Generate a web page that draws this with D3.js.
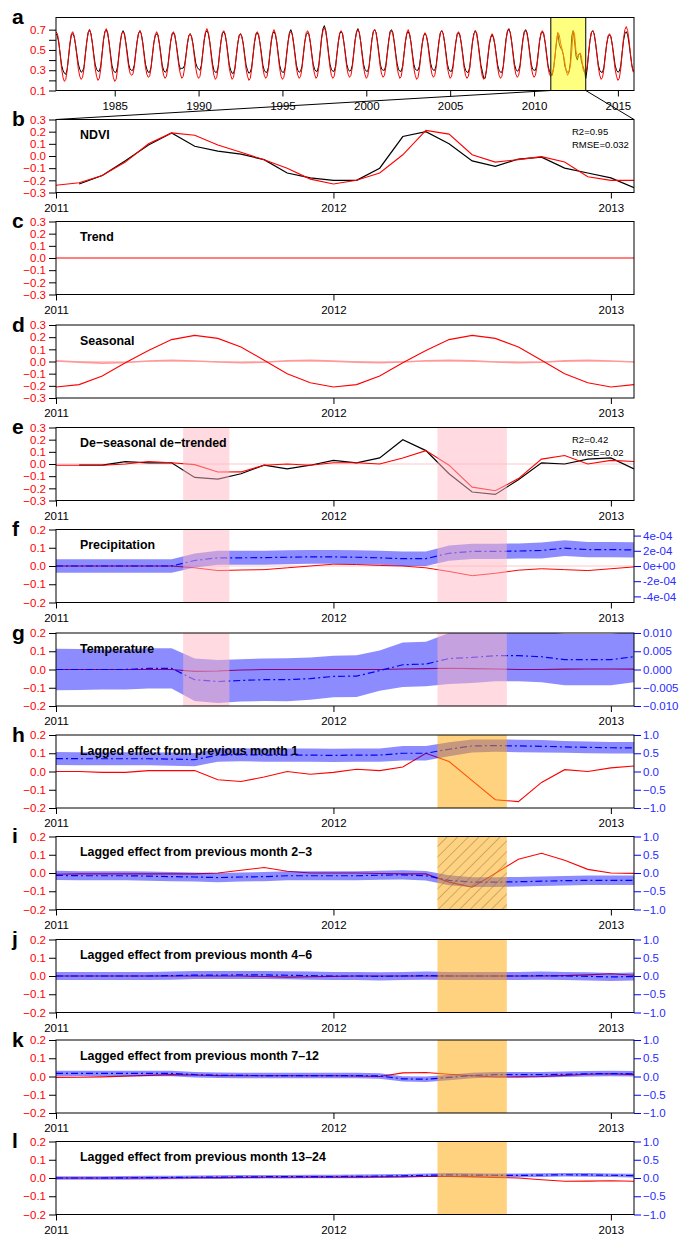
<!DOCTYPE html>
<html>
<head>
<meta charset="utf-8">
<script src="https://cdn.jsdelivr.net/npm/d3@7"></script>
<style>
  body { margin: 0; background: #fff; }
  svg { display: block; font-family: "Liberation Sans", Arial, Helvetica, sans-serif; }
</style>
</head>
<body>
<svg id="chart" width="680" height="1237"></svg>
<script>
// ---------- panel a: monthly NDVI, Jul 1981 - Dec 2015 (one row per year) ----------
const ndviObsRows = [
  [0.66,0.64,0.57,0.46,0.35,0.30],
  [0.27,0.26,0.31,0.43,0.56,0.65,0.66,0.63,0.55,0.45,0.36,0.31],
  [0.28,0.29,0.33,0.46,0.58,0.67,0.70,0.66,0.57,0.46,0.36,0.31],
  [0.29,0.29,0.34,0.47,0.60,0.68,0.70,0.66,0.57,0.46,0.35,0.30],
  [0.28,0.28,0.33,0.45,0.58,0.66,0.69,0.66,0.57,0.47,0.36,0.31],
  [0.30,0.30,0.35,0.47,0.58,0.66,0.69,0.66,0.58,0.47,0.36,0.31],
  [0.28,0.28,0.33,0.45,0.57,0.64,0.66,0.64,0.56,0.46,0.35,0.30],
  [0.28,0.29,0.34,0.46,0.58,0.65,0.67,0.64,0.56,0.46,0.36,0.31],
  [0.32,0.32,0.35,0.45,0.56,0.64,0.66,0.63,0.56,0.46,0.37,0.33],
  [0.31,0.30,0.35,0.47,0.59,0.67,0.69,0.66,0.58,0.47,0.36,0.30],
  [0.28,0.28,0.33,0.46,0.58,0.66,0.68,0.65,0.57,0.46,0.35,0.30],
  [0.27,0.27,0.32,0.44,0.56,0.64,0.66,0.63,0.56,0.45,0.35,0.30],
  [0.27,0.28,0.33,0.45,0.57,0.65,0.67,0.64,0.56,0.46,0.35,0.30],
  [0.28,0.28,0.33,0.46,0.58,0.66,0.68,0.65,0.57,0.46,0.35,0.30],
  [0.28,0.28,0.33,0.46,0.58,0.67,0.70,0.66,0.57,0.46,0.35,0.30],
  [0.28,0.29,0.34,0.46,0.58,0.65,0.67,0.65,0.57,0.46,0.36,0.31],
  [0.29,0.29,0.35,0.48,0.62,0.71,0.74,0.69,0.59,0.47,0.36,0.31],
  [0.29,0.29,0.34,0.46,0.58,0.66,0.68,0.66,0.57,0.47,0.36,0.31],
  [0.29,0.30,0.35,0.47,0.60,0.68,0.71,0.67,0.58,0.47,0.36,0.31],
  [0.29,0.29,0.34,0.47,0.60,0.68,0.70,0.67,0.58,0.47,0.36,0.31],
  [0.30,0.30,0.35,0.47,0.59,0.68,0.70,0.67,0.58,0.47,0.37,0.31],
  [0.29,0.29,0.34,0.46,0.58,0.66,0.68,0.65,0.57,0.46,0.36,0.31],
  [0.30,0.30,0.34,0.45,0.56,0.64,0.66,0.64,0.57,0.47,0.37,0.32],
  [0.30,0.30,0.35,0.47,0.59,0.67,0.69,0.66,0.58,0.47,0.36,0.31],
  [0.29,0.29,0.34,0.46,0.57,0.65,0.67,0.64,0.56,0.46,0.35,0.30],
  [0.28,0.28,0.33,0.46,0.58,0.66,0.69,0.66,0.57,0.46,0.35,0.29],
  [0.22,0.22,0.30,0.43,0.55,0.62,0.65,0.62,0.55,0.45,0.35,0.30],
  [0.28,0.28,0.34,0.48,0.61,0.69,0.71,0.67,0.58,0.47,0.36,0.31],
  [0.29,0.30,0.35,0.48,0.60,0.68,0.70,0.67,0.58,0.47,0.36,0.31],
  [0.30,0.30,0.35,0.47,0.59,0.66,0.68,0.65,0.57,0.46,0.35,0.29],
  [0.27,0.25,0.32,0.44,0.57,0.67,0.56,0.52,0.50,0.45,0.34,0.30],
  [0.28,0.28,0.38,0.64,0.69,0.58,0.44,0.40,0.46,0.47,0.38,0.34],
  [0.30,0.22,0.31,0.46,0.59,0.67,0.69,0.66,0.57,0.46,0.35,0.30],
  [0.28,0.28,0.33,0.45,0.56,0.63,0.65,0.63,0.55,0.45,0.35,0.30],
  [0.28,0.29,0.34,0.47,0.59,0.66,0.68,0.65,0.56,0.45,0.35,0.29]
];
const ndviFitRows = [
  [0.68,0.66,0.58,0.45,0.32,0.23],
  [0.19,0.21,0.30,0.44,0.57,0.66,0.68,0.64,0.55,0.43,0.31,0.24],
  [0.21,0.23,0.31,0.45,0.58,0.67,0.70,0.66,0.57,0.44,0.32,0.24],
  [0.20,0.22,0.31,0.46,0.60,0.68,0.71,0.67,0.57,0.44,0.31,0.23],
  [0.19,0.21,0.30,0.44,0.57,0.66,0.68,0.65,0.56,0.44,0.33,0.27],
  [0.25,0.26,0.33,0.46,0.58,0.66,0.69,0.66,0.57,0.45,0.33,0.26],
  [0.23,0.24,0.32,0.45,0.57,0.65,0.68,0.65,0.56,0.44,0.32,0.25],
  [0.22,0.24,0.32,0.45,0.58,0.66,0.68,0.65,0.56,0.44,0.33,0.26],
  [0.22,0.24,0.32,0.44,0.56,0.64,0.66,0.63,0.55,0.43,0.32,0.25],
  [0.22,0.24,0.33,0.47,0.60,0.68,0.71,0.67,0.58,0.45,0.33,0.25],
  [0.21,0.23,0.32,0.46,0.58,0.67,0.69,0.66,0.57,0.44,0.32,0.25],
  [0.21,0.23,0.31,0.44,0.56,0.64,0.66,0.63,0.55,0.43,0.31,0.24],
  [0.20,0.22,0.31,0.45,0.58,0.66,0.68,0.65,0.56,0.44,0.32,0.25],
  [0.22,0.24,0.32,0.46,0.59,0.67,0.70,0.66,0.57,0.44,0.32,0.24],
  [0.21,0.23,0.31,0.45,0.57,0.66,0.68,0.65,0.56,0.44,0.32,0.25],
  [0.22,0.24,0.32,0.45,0.58,0.67,0.69,0.66,0.57,0.45,0.33,0.26],
  [0.22,0.24,0.33,0.47,0.61,0.69,0.72,0.68,0.58,0.45,0.33,0.25],
  [0.22,0.24,0.32,0.46,0.58,0.67,0.69,0.66,0.57,0.45,0.33,0.26],
  [0.23,0.25,0.33,0.46,0.59,0.67,0.70,0.67,0.58,0.45,0.33,0.26],
  [0.22,0.24,0.33,0.47,0.60,0.68,0.70,0.67,0.57,0.45,0.33,0.26],
  [0.23,0.25,0.33,0.46,0.58,0.67,0.69,0.66,0.57,0.45,0.33,0.26],
  [0.22,0.24,0.33,0.46,0.59,0.67,0.70,0.66,0.57,0.44,0.32,0.25],
  [0.21,0.23,0.31,0.44,0.56,0.64,0.67,0.64,0.56,0.44,0.33,0.26],
  [0.23,0.25,0.33,0.46,0.58,0.67,0.69,0.66,0.57,0.45,0.33,0.26],
  [0.22,0.24,0.32,0.45,0.57,0.66,0.68,0.65,0.56,0.44,0.32,0.25],
  [0.22,0.24,0.32,0.45,0.58,0.66,0.69,0.66,0.56,0.44,0.32,0.24],
  [0.21,0.23,0.31,0.44,0.56,0.63,0.66,0.63,0.55,0.43,0.32,0.25],
  [0.22,0.24,0.33,0.47,0.60,0.68,0.70,0.67,0.58,0.45,0.33,0.26],
  [0.23,0.25,0.33,0.47,0.59,0.67,0.69,0.66,0.57,0.45,0.33,0.26],
  [0.23,0.25,0.33,0.46,0.59,0.67,0.69,0.66,0.57,0.44,0.33,0.26],
  [0.24,0.26,0.32,0.43,0.58,0.67,0.65,0.57,0.51,0.45,0.38,0.29],
  [0.25,0.28,0.34,0.49,0.69,0.66,0.49,0.43,0.45,0.47,0.43,0.31],
  [0.28,0.28,0.33,0.46,0.59,0.67,0.69,0.66,0.57,0.45,0.33,0.25],
  [0.21,0.23,0.31,0.44,0.56,0.64,0.66,0.63,0.55,0.43,0.31,0.24],
  [0.20,0.22,0.31,0.46,0.61,0.70,0.73,0.69,0.59,0.46,0.34,0.28]
];
const ndviObs = ndviObsRows.flat();
const ndviFit = ndviFitRows.flat();
const fullStart = 1981.5;
const fullEnd = 2015.96;
const aYearTicks = [1985, 1990, 1995, 2000, 2005, 2010, 2015];
const aValueTicks = [0.1, 0.2, 0.3, 0.4, 0.5, 0.6, 0.7];
const zoomWindow = [2011, 2013 + 1 / 12];

// ---------- panels b-l: monthly, Jan 2011 - Feb 2013 ----------
const zoomYears = [2011, 2012, 2013];
const ndviAnomObs = [null,-0.23,-0.16,-0.04,0.09,0.19,0.08,0.04,0.015,-0.03,-0.14,-0.18,-0.20,-0.20,-0.10,0.16,0.20,0.10,-0.04,-0.085,-0.025,-0.01,-0.10,-0.14,-0.18,-0.26];
const ndviAnomFit = [-0.24,-0.22,-0.16,-0.05,0.10,0.19,0.17,0.09,0.03,-0.03,-0.10,-0.19,-0.23,-0.20,-0.14,0.01,0.21,0.18,0.01,-0.05,-0.03,-0.005,-0.05,-0.17,-0.20,-0.20];
const trend = [0,0,0,0,0,0,0,0,0,0,0,0,0,0,0,0,0,0,0,0,0,0,0,0,0,0];
const seasonal = [-0.21,-0.19,-0.12,-0.01,0.09,0.18,0.215,0.19,0.12,0.01,-0.10,-0.175,-0.21,-0.19,-0.12,-0.01,0.09,0.18,0.215,0.19,0.12,0.01,-0.10,-0.175,-0.21,-0.19];
const seasonalMinor = [0.005,-0.005,-0.013,-0.008,0.004,0.01,0.004,-0.004,-0.01,-0.006,0.006,0.01,0.003,-0.005,-0.01,-0.004,0.006,0.01,0.005,-0.004,-0.01,-0.006,0.005,0.01,0.004,-0.004];
const residObs = [null,-0.01,-0.01,0.02,0.01,0.01,-0.11,-0.125,-0.08,-0.01,-0.04,-0.01,0.03,0.01,0.05,0.20,0.11,-0.08,-0.23,-0.25,-0.13,0.01,0.00,0.04,0.05,-0.04];
const residFit = [-0.01,-0.01,-0.01,0.0,0.02,0.01,-0.005,-0.066,-0.065,-0.01,0.0,-0.01,0.01,0.01,0.0,0.05,0.11,-0.01,-0.19,-0.22,-0.12,0.04,0.07,0.00,0.03,0.02];

const precipContrib = [0,0,0,0,0,0,-0.01,-0.025,-0.022,-0.02,-0.01,0.0,0.01,0.008,0.003,0.0,-0.01,-0.03,-0.053,-0.04,-0.023,-0.015,-0.02,-0.025,-0.015,-0.005];
const precipCoef = [0,0,0,0,0,0,0.72e-4,1.08e-4,1.08e-4,1.10e-4,1.15e-4,1.20e-4,1.20e-4,1.15e-4,1.08e-4,0.96e-4,0.96e-4,1.68e-4,1.92e-4,1.92e-4,1.97e-4,2.04e-4,2.35e-4,2.16e-4,2.16e-4,2.11e-4];
const precipSe = [0.9e-4,0.9e-4,0.9e-4,0.9e-4,0.9e-4,0.9e-4,0.92e-4,0.92e-4,0.92e-4,0.92e-4,0.92e-4,0.92e-4,0.92e-4,0.92e-4,0.92e-4,0.95e-4,0.95e-4,1.0e-4,1.0e-4,1.0e-4,1.0e-4,1.05e-4,1.05e-4,1.0e-4,1.0e-4,1.0e-4];
const precipRightTicks = [-4e-4, -2e-4, 0, 2e-4, 4e-4];
const precipRightLabels = ['-4e-04', '-2e-04', '0e+00', '2e-04', '4e-04'];

const tempContrib = [0,0,0,0,0,0,-0.01,-0.008,-0.003,0,0,0,0,0,0,0.003,0.005,0.007,0.005,0.003,0,0,0.002,0.003,0.003,0.002];
const tempCoef = [0.0000,0.0000,0.0000,0.0000,0.0003,0.0003,-0.0028,-0.0033,-0.0030,-0.0028,-0.0028,-0.0025,-0.0019,-0.0018,-0.0003,0.0013,0.0015,0.0030,0.0033,0.0038,0.0038,0.0035,0.0027,0.0027,0.0027,0.0035];
const tempSe = [0.0057,0.0056,0.0055,0.0055,0.0055,0.0055,0.0058,0.0059,0.0058,0.0058,0.0059,0.0058,0.0057,0.0057,0.0055,0.0061,0.0061,0.0070,0.0070,0.0070,0.0070,0.0070,0.0070,0.0070,0.0070,0.0070];

const lag1Contrib = [0,0,-0.005,-0.005,0.005,0.005,0.005,-0.045,-0.055,-0.03,0.0,-0.015,-0.005,0.012,0.005,0.025,0.10,0.055,-0.05,-0.155,-0.165,-0.06,0.01,0.0,0.02,0.03];
const lag1Coef = [0.355,0.35,0.35,0.35,0.35,0.34,0.325,0.45,0.46,0.45,0.45,0.45,0.44,0.45,0.45,0.50,0.50,0.61,0.70,0.71,0.70,0.69,0.675,0.66,0.65,0.65];
const lag1Se = [0.18,0.18,0.18,0.18,0.18,0.18,0.18,0.18,0.18,0.18,0.18,0.18,0.18,0.18,0.18,0.2,0.2,0.19,0.18,0.17,0.17,0.17,0.16,0.16,0.16,0.16];

const lag23Contrib = [-0.007,-0.005,-0.005,-0.005,-0.005,-0.005,-0.005,0.0,0.015,0.03,0.01,0.0,0.0,0.0,-0.003,-0.005,-0.005,-0.05,-0.078,-0.002,0.075,0.108,0.07,0.02,0.0,-0.002];
const lag23Coef = [-0.065,-0.075,-0.075,-0.075,-0.085,-0.10,-0.11,-0.125,-0.11,-0.10,-0.075,-0.075,-0.075,-0.075,-0.06,-0.05,-0.075,-0.20,-0.25,-0.25,-0.24,-0.225,-0.21,-0.20,-0.20,-0.20];
const lag23Se = [0.125,0.125,0.125,0.125,0.125,0.125,0.125,0.125,0.125,0.125,0.125,0.125,0.125,0.125,0.125,0.125,0.13,0.135,0.135,0.135,0.13,0.13,0.13,0.13,0.13,0.13];

const lag46Contrib = [0,0,0,0,0,0,0,0,0,-0.003,-0.006,-0.004,-0.002,0,0,0,0,0,0,0,0,0,0.002,0.006,0.012,0.004];
const lag46Coef = [0.0,0.0,0.0,0.0,0.0,0.01,0.025,0.025,0.03,0.03,0.02,0.01,0.0,0.0,-0.01,0.0,0.01,0.0,0.0,0.0,0.0,0.01,0.0,-0.01,-0.025,-0.015];
const lag46Se = [0.11,0.11,0.11,0.11,0.11,0.11,0.11,0.11,0.11,0.11,0.11,0.11,0.11,0.11,0.11,0.11,0.11,0.11,0.11,0.11,0.11,0.11,0.11,0.11,0.11,0.11];

const lag712Contrib = [-0.005,-0.004,-0.002,0.002,0.006,0.01,0.008,0.005,0.004,0.004,0.004,0.004,0.004,0.003,0.0,0.02,0.022,0.012,0.004,-0.003,-0.002,0.0,0.006,0.012,0.015,0.01];
const lag712Coef = [0.085,0.085,0.085,0.085,0.085,0.085,0.05,0.035,0.03,0.025,0.025,0.025,0.025,0.025,0.015,-0.065,-0.075,-0.025,0.025,0.05,0.05,0.05,0.06,0.075,0.08,0.075];
const lag712Se = [0.075,0.075,0.075,0.075,0.075,0.075,0.075,0.075,0.075,0.075,0.075,0.075,0.075,0.075,0.075,0.075,0.075,0.075,0.075,0.075,0.075,0.075,0.075,0.075,0.075,0.075];

const lag1324Contrib = [0,0,0,0,0,0,0.001,0.002,0.003,0.004,0.004,0.005,0.005,0.005,0.006,0.007,0.008,0.008,0.006,0.003,0.0,-0.01,-0.018,-0.017,-0.015,-0.018];
const lag1324Coef = [0.0,0.0,0.0,0.005,0.01,0.015,0.02,0.025,0.03,0.035,0.035,0.04,0.04,0.045,0.05,0.06,0.075,0.085,0.08,0.075,0.07,0.08,0.09,0.085,0.075,0.065];
const lag1324Se = [0.05,0.05,0.05,0.05,0.05,0.05,0.05,0.05,0.05,0.05,0.05,0.05,0.05,0.05,0.05,0.05,0.05,0.05,0.05,0.05,0.05,0.05,0.05,0.05,0.05,0.05];

// drought periods (month index from Jan 2011)
const droughtSpans = [[5.5, 7.5], [16.5, 19.5]];
const severeSpans = [[16.5, 19.5]];

// ---------- layout ----------
const L = 56, R = 634;
const aTop = 17.5, aBot = 90.5;
const panelTops = [119.5, 221.5, 325, 427.5, 529.5, 633, 735, 836.5, 939.5, 1040, 1141.5];
const panelH = 73;
const RED = '#ff0000', BLUE = '#0000ff';
const PINK = 'rgba(255,182,193,0.5)', ORANGE = 'rgba(255,165,0,0.5)';

const svg = d3.select('#chart');
const defs = svg.append('defs');

// hatch pattern for panel i
const hatch = defs.append('pattern').attr('id', 'hatch')
  .attr('patternUnits', 'userSpaceOnUse').attr('width', 7.5).attr('height', 7.5)
  .attr('patternTransform', 'rotate(45)');
hatch.append('line').attr('x1', 0).attr('y1', 0).attr('x2', 0).attr('y2', 7.5)
  .attr('stroke', '#7a6a5a').attr('stroke-width', 0.8);

function styleAxis(sel, tickColor, textColor) {
  sel.attr('font-family', null).attr('font-size', 11.5);
  sel.select('.domain').remove();
  sel.selectAll('.tick line').attr('stroke', tickColor);
  sel.selectAll('.tick text').attr('fill', textColor);
}

function letter(txt, top) {
  svg.append('text').attr('x', 12).attr('y', top + 6.5)
    .attr('font-size', 21).attr('font-weight', 'bold').text(txt);
}

// ---------- panel a ----------
const xA = d3.scaleLinear().domain([fullStart, fullEnd]).range([L, R]);
const yA = d3.scaleLinear().domain([0.1, 0.82]).range([aBot, aTop]);
const tFull = i => fullStart + i / 12;

defs.append('clipPath').attr('id', 'clip-a').append('rect')
  .attr('x', L).attr('y', aTop).attr('width', R - L).attr('height', aBot - aTop);
const ga = svg.append('g');
const pa = ga.append('g').attr('clip-path', 'url(#clip-a)');
pa.append('path').attr('d', d3.line().x((d, i) => xA(tFull(i))).y(d => yA(d))(ndviObs))
  .attr('fill', 'none').attr('stroke', '#000').attr('stroke-width', 1);
pa.append('path').attr('d', d3.line().x((d, i) => xA(tFull(i))).y(d => yA(d))(ndviFit))
  .attr('fill', 'none').attr('stroke', RED).attr('stroke-width', 1);
ga.append('rect').attr('x', xA(zoomWindow[0])).attr('y', aTop)
  .attr('width', xA(zoomWindow[1]) - xA(zoomWindow[0])).attr('height', aBot - aTop)
  .attr('fill', 'rgba(255,255,0,0.5)').attr('stroke', '#000').attr('stroke-width', 1);
ga.append('rect').attr('x', L).attr('y', aTop).attr('width', R - L).attr('height', aBot - aTop)
  .attr('fill', 'none').attr('stroke', '#000');
ga.append('g').attr('transform', `translate(${L},0)`)
  .call(d3.axisLeft(yA).tickValues(aValueTicks).tickSize(7).tickPadding(3)
    .tickFormat(d => Math.round(d * 10) % 2 === 1 ? d3.format('.1f')(d) : ''))
  .call(s => styleAxis(s, '#000', RED));
ga.append('g').attr('transform', `translate(0,${aBot})`)
  .call(d3.axisBottom(xA).tickValues(aYearTicks).tickSize(6).tickPadding(5).tickFormat(d3.format('d')))
  .call(s => styleAxis(s, '#000', '#000'));
letter('a', aTop);

// ---------- panels b-l ----------
const xZ = d3.scaleLinear().domain(zoomWindow).range([L, R]);
const tZ = i => 2011 + i / 12;
const fmt1 = d3.format('.1f');

const panels = [
  { id: 'b', title: 'NDVI', yDomain: [-0.3, 0.3], stats: ['R2=0.95', 'RMSE=0.032'],
    lines: [{ v: ndviAnomObs, c: '#000', w: 1.2 }, { v: ndviAnomFit, c: RED, w: 1.1 }] },
  { id: 'c', title: 'Trend', yDomain: [-0.3, 0.3], lines: [{ v: trend, c: RED, w: 1.1 }] },
  { id: 'd', title: 'Seasonal', yDomain: [-0.3, 0.3], zero: true,
    lines: [{ v: seasonalMinor, c: '#ff9a9a', w: 1.6 }, { v: seasonal, c: RED, w: 1.1 }] },
  { id: 'e', title: 'De\u2212seasonal de\u2212trended', yDomain: [-0.3, 0.3], zero: true,
    stats: ['R2=0.42', 'RMSE=0.02'], shade: droughtSpans, shadeColor: PINK,
    lines: [{ v: residObs, c: '#000', w: 1.2 }, { v: residFit, c: RED, w: 1.1 }] },
  { id: 'f', title: 'Precipitation', yDomain: [-0.2, 0.2], zero: true,
    shade: droughtSpans, shadeColor: PINK,
    right: { domain: [-4.8e-4, 4.8e-4], ticks: precipRightTicks, fmt: d => precipRightLabels[precipRightTicks.indexOf(d)] },
    band: { c: precipCoef, se: precipSe }, lines: [{ v: precipContrib, c: RED, w: 1 }] },
  { id: 'g', title: 'Temperature', yDomain: [-0.2, 0.2],
    shade: droughtSpans, shadeColor: PINK,
    right: { domain: [-0.01, 0.01], ticks: [-0.01, -0.005, 0, 0.005, 0.01], fmt: d3.format('.3f') },
    band: { c: tempCoef, se: tempSe }, lines: [{ v: tempContrib, c: RED, w: 1.1 }] },
  { id: 'h', title: 'Lagged effect from previous month 1', yDomain: [-0.2, 0.2],
    shade: severeSpans, shadeColor: ORANGE,
    right: { domain: [-1, 1], ticks: [-1, -0.5, 0, 0.5, 1], fmt: fmt1 },
    band: { c: lag1Coef, se: lag1Se }, lines: [{ v: lag1Contrib, c: RED, w: 1.1 }] },
  { id: 'i', title: 'Lagged effect from previous month 2\u20133', yDomain: [-0.2, 0.2],
    shade: severeSpans, shadeColor: ORANGE, hatch: true,
    right: { domain: [-1, 1], ticks: [-1, -0.5, 0, 0.5, 1], fmt: fmt1 },
    band: { c: lag23Coef, se: lag23Se }, lines: [{ v: lag23Contrib, c: RED, w: 1.1 }] },
  { id: 'j', title: 'Lagged effect from previous month 4\u20136', yDomain: [-0.2, 0.2],
    shade: severeSpans, shadeColor: ORANGE,
    right: { domain: [-1, 1], ticks: [-1, -0.5, 0, 0.5, 1], fmt: fmt1 },
    band: { c: lag46Coef, se: lag46Se }, lines: [{ v: lag46Contrib, c: RED, w: 1.1 }] },
  { id: 'k', title: 'Lagged effect from previous month 7\u201312', yDomain: [-0.2, 0.2],
    shade: severeSpans, shadeColor: ORANGE,
    right: { domain: [-1, 1], ticks: [-1, -0.5, 0, 0.5, 1], fmt: fmt1 },
    band: { c: lag712Coef, se: lag712Se }, lines: [{ v: lag712Contrib, c: RED, w: 1.1 }] },
  { id: 'l', title: 'Lagged effect from previous month 13\u201324', yDomain: [-0.2, 0.2],
    shade: severeSpans, shadeColor: ORANGE,
    right: { domain: [-1, 1], ticks: [-1, -0.5, 0, 0.5, 1], fmt: fmt1 },
    band: { c: lag1324Coef, se: lag1324Se }, lines: [{ v: lag1324Contrib, c: RED, w: 1.1 }] }
];

panels.forEach((p, k) => {
  const top = panelTops[k], bot = top + panelH;
  const y = d3.scaleLinear().domain(p.yDomain).range([bot, top]);
  const yTicks = d3.range(Math.round(p.yDomain[0] * 10), Math.round(p.yDomain[1] * 10) + 1).map(v => v / 10);

  defs.append('clipPath').attr('id', 'clip-' + p.id).append('rect')
    .attr('x', L).attr('y', top).attr('width', R - L).attr('height', bot - top);
  const g = svg.append('g');
  const plot = g.append('g').attr('clip-path', `url(#clip-${p.id})`);

  if (p.zero) {
    plot.append('line').attr('x1', L).attr('x2', R).attr('y1', y(0)).attr('y2', y(0))
      .attr('stroke', 'rgba(255,0,0,0.22)').attr('stroke-width', 1);
  }

  p.lines.forEach(s => {
    plot.append('path')
      .attr('d', d3.line().defined(d => d != null).x((d, i) => xZ(tZ(i))).y(d => y(d))(s.v))
      .attr('fill', 'none').attr('stroke', s.c).attr('stroke-width', s.w);
  });

  let yR = null;
  if (p.right) {
    yR = d3.scaleLinear().domain(p.right.domain).range([bot, top]);
    const se = p.band.se;
    plot.append('path')
      .attr('d', d3.area().x((d, i) => xZ(tZ(i))).y0((d, i) => yR(d - se[i])).y1((d, i) => yR(d + se[i]))(p.band.c))
      .attr('fill', 'rgba(0,0,255,0.45)');
    plot.append('path')
      .attr('d', d3.line().x((d, i) => xZ(tZ(i))).y(d => yR(d))(p.band.c))
      .attr('fill', 'none').attr('stroke', BLUE).attr('stroke-width', 1.2)
      .attr('stroke-dasharray', '7,3,2,3');
  }

  (p.shade || []).forEach(([a, b]) => {
    plot.append('rect').attr('x', xZ(tZ(a))).attr('y', top)
      .attr('width', xZ(tZ(b)) - xZ(tZ(a))).attr('height', bot - top)
      .attr('fill', p.shadeColor);
    if (p.hatch) {
      plot.append('rect').attr('x', xZ(tZ(a))).attr('y', top)
        .attr('width', xZ(tZ(b)) - xZ(tZ(a))).attr('height', bot - top)
        .attr('fill', 'url(#hatch)');
    }
  });

  g.append('rect').attr('x', L).attr('y', top).attr('width', R - L).attr('height', bot - top)
    .attr('fill', 'none').attr('stroke', '#000');

  g.append('g').attr('transform', `translate(${L},0)`)
    .call(d3.axisLeft(y).tickValues(yTicks).tickSize(7).tickPadding(3).tickFormat(fmt1))
    .call(s => styleAxis(s, '#000', RED));

  g.append('g').attr('transform', `translate(0,${bot})`)
    .call(d3.axisBottom(xZ).tickValues(zoomYears).tickSize(6).tickPadding(5).tickFormat(d3.format('d')))
    .call(s => styleAxis(s, '#000', '#000'));

  if (yR) {
    g.append('g').attr('transform', `translate(${R},0)`)
      .call(d3.axisRight(yR).tickValues(p.right.ticks).tickSize(7).tickPadding(2).tickFormat(p.right.fmt))
      .call(s => styleAxis(s, BLUE, '#2a2aff'));
  }

  g.append('text').attr('x', 80).attr('y', top + 19.5)
    .attr('font-size', 12.4).attr('font-weight', 'bold').text(p.title);

  if (p.stats) {
    p.stats.forEach((s, j) => {
      g.append('text').attr('x', 572).attr('y', top + 15.5 + j * 13)
        .attr('font-size', 9.5).text(s);
    });
  }

  letter(p.id, top);
});

// zoom connectors from panel a to panel b
svg.append('line').attr('x1', xA(zoomWindow[0])).attr('y1', aBot).attr('x2', L).attr('y2', panelTops[0])
  .attr('stroke', '#000').attr('stroke-width', 1);
svg.append('line').attr('x1', xA(zoomWindow[1])).attr('y1', aBot).attr('x2', R).attr('y2', panelTops[0])
  .attr('stroke', '#000').attr('stroke-width', 1);
</script>
</body>
</html>
